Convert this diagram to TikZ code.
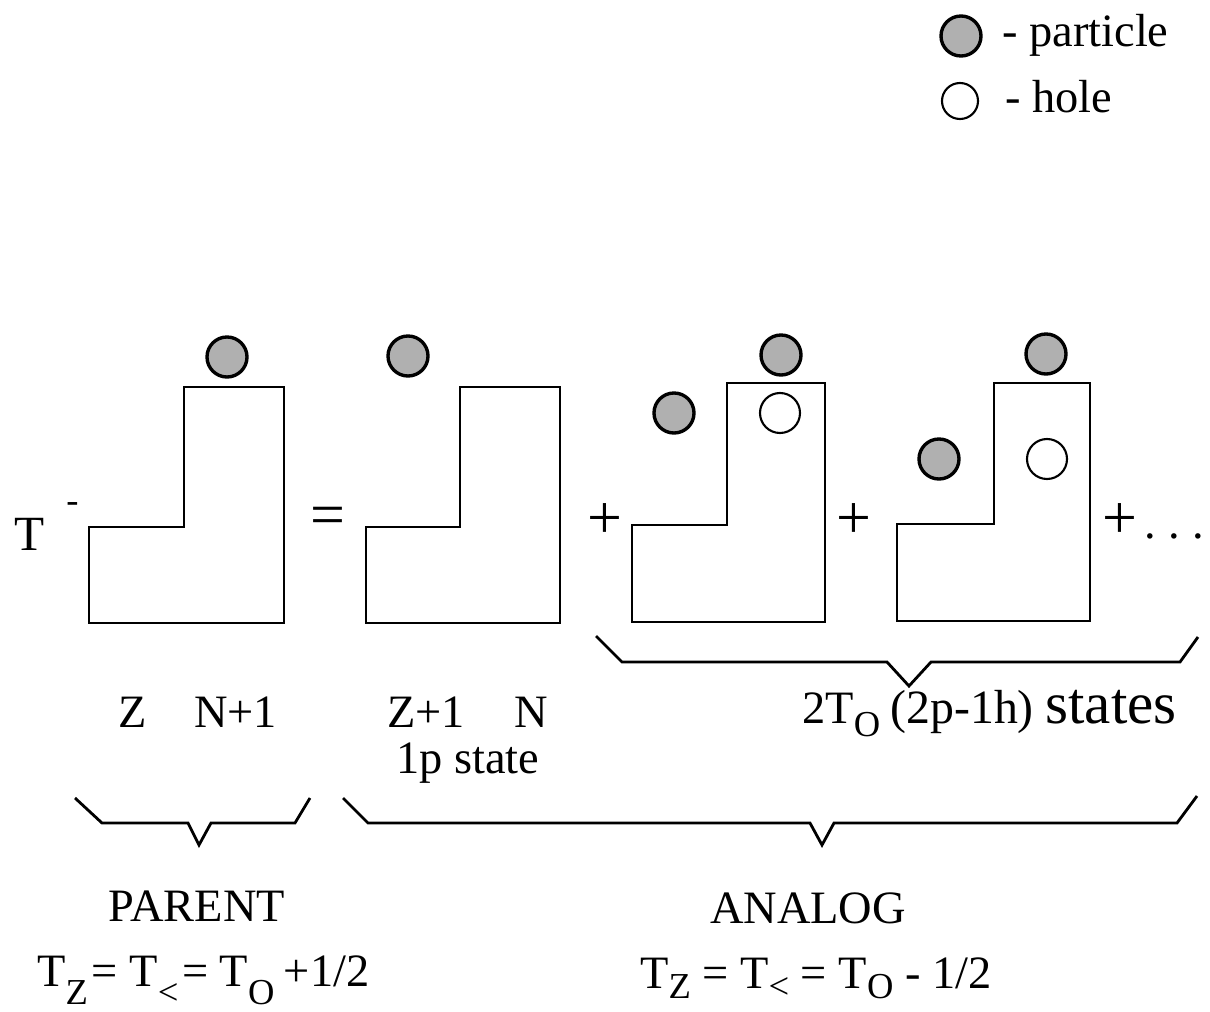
\documentclass[tikz,border=0pt]{standalone}
\usepackage{fontspec}
\setmainfont{Liberation Serif}
% lowered, fairly large subscript used in the isospin labels
\newcommand\lowsub[2][0.3em]{\raisebox{-#1}{\fontsize{26}{30}\selectfont #2}}
\begin{document}
\begin{tikzpicture}[x=0.025cm, y=-0.025cm,
  outline/.style={draw=black, line width=2pt, line join=miter},
  bracket/.style={draw=black, line width=2pt, line join=miter},
  particle/.style={circle, draw=black, line width=2.4pt, fill=gray!62, minimum size=1cm, inner sep=0pt},
  hole/.style={circle, draw=black, line width=1.5pt, fill=white, minimum size=1cm, inner sep=0pt},
  smallhole/.style={hole, minimum size=0.9cm},
  lbl/.style={inner sep=0pt, font=\fontsize{33}{40}\selectfont},
  bigsign/.style={inner sep=0pt, font=\fontsize{44}{50}\selectfont},
]
\useasboundingbox (0,0) rectangle (1210,1012);

% legend
\node[particle] (lp) at (961,36) {};
\node[lbl, anchor=base west] (lpt) at (1002,47) {- particle};
\node[smallhole] (lh) at (960,101) {};
\node[lbl, anchor=base west] (lht) at (1005,112) {- hole};

% T^- operator
\node[inner sep=0pt, anchor=base west, font=\fontsize{35}{40}\selectfont] (op) at (14,550)
  {T\hspace{0.45em}\raisebox{0.77em}{\fontsize{26}{30}\selectfont -}};

% parent nucleus
\draw[outline] (89,527) -- (184,527) -- (184,387) -- (284,387) -- (284,623) -- (89,623) -- cycle;
\node[particle] (p1) at (227,357) {};

\node[bigsign, anchor=base] (eq) at (328,535) {=};

% 1p state
\draw[outline] (366,527) -- (460,527) -- (460,387) -- (560,387) -- (560,623) -- (366,623) -- cycle;
\node[particle] (p2) at (408,356) {};

\node[bigsign, anchor=base] (plusA) at (605,538) {+};

% first 2p-1h state
\draw[outline] (632,525) -- (727,525) -- (727,383) -- (825,383) -- (825,622) -- (632,622) -- cycle;
\node[particle] (p3a) at (781,355) {};
\node[particle] (p3b) at (674,413) {};
\node[hole] (h3) at (780,413) {};

\node[bigsign, anchor=base] (plusB) at (854,538) {+};

% second 2p-1h state
\draw[outline] (897,524) -- (994,524) -- (994,383) -- (1090,383) -- (1090,621) -- (897,621) -- cycle;
\node[particle] (p4a) at (1046,354) {};
\node[particle] (p4b) at (939,459) {};
\node[hole] (h4) at (1047,459) {};

\node[bigsign, anchor=base] (plusC) at (1120,538) {+};
\node[lbl, anchor=base west] (dots) at (1144,538) {.\hspace{0.27em}.\hspace{0.27em}.};

% brace over the 2p-1h terms
\draw[bracket] (596,636) -- (622,662) -- (887,662) -- (909,686) -- (931,662) -- (1180,662) -- (1198,637);

% labels under the nuclei
\node[lbl, anchor=base] (zA) at (133,727) {Z};
\node[lbl, anchor=base west] (nA) at (194,727) {N+1};
\node[lbl, anchor=base west] (zB) at (387,727) {Z+1};
\node[lbl, anchor=base west] (nB) at (514,727) {N};
\node[lbl, anchor=base west] (oneP) at (396,773) {1p state};
\node[lbl, anchor=base west] (tpoh) at (802,723)
  {2T\lowsub[0.28em]{O}\hspace{0.22em}{\fontsize{34}{40}\selectfont (2p-1h)}\hspace{0.25em}{\fontsize{42}{46}\selectfont states}};

% braces grouping parent and analog
\draw[bracket] (75,798) -- (102,823) -- (188,823) -- (199,845) -- (211,823) -- (295,823) -- (310,798);
\draw[bracket] (343,798) -- (368,823) -- (810,823) -- (822,845) -- (834,823) -- (1177,823) -- (1197,796);

\node[lbl, anchor=base] (parent) at (197,921) {PARENT};
\node[lbl, anchor=base] (analog) at (808,923) {ANALOG};

\node[lbl, anchor=base west] (fp) at (37,986)
  {T\lowsub[0.4em]{Z}\kern0.08em= T\lowsub[0.4em]{<}\kern0.08em= T\lowsub[0.4em]{O}\hspace{0.2em}+1/2};
\node[lbl, anchor=base west] (fa) at (640,988)
  {T\lowsub[0.22em]{Z} = T\lowsub[0.22em]{<} = T\lowsub[0.22em]{O} - 1/2};
\end{tikzpicture}
\end{document}
